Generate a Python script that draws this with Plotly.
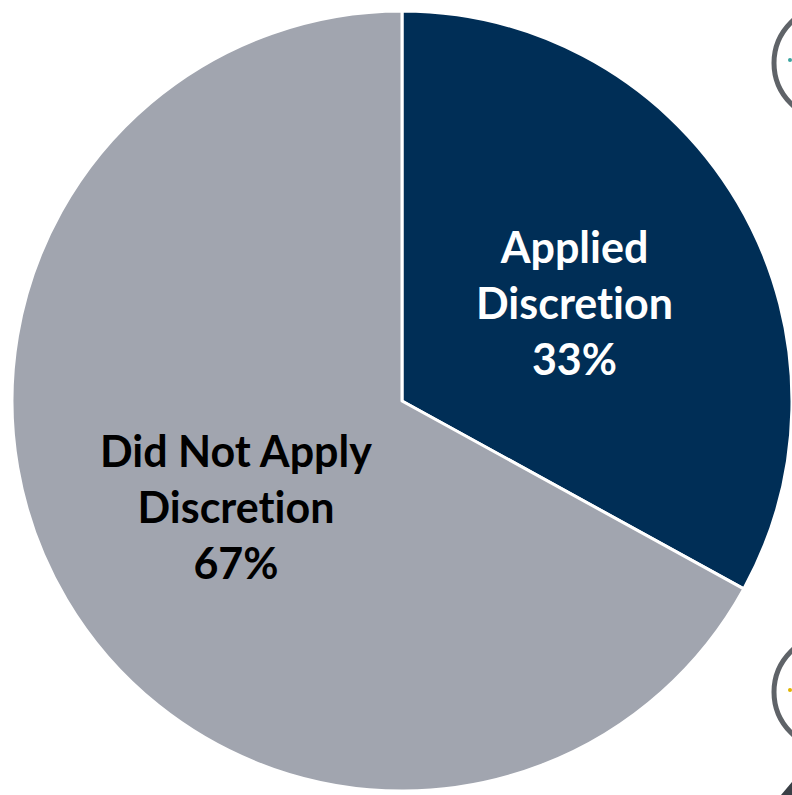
import plotly.graph_objects as go

# Share of cases by whether discretion was applied
categories = ["Applied Discretion", "Did Not Apply Discretion"]
# a zero-width non-joiner keeps "ti" from fusing into a ligature
label_lines = [["Applied", "Discret\u200cion"], ["Did Not Apply", "Discret\u200cion"]]
shares = [33, 67]
slice_colors = ["#002E56", "#A1A5AF"]
label_colors = ["#FFFFFF", "#000000"]

W, H = 792, 795


def px_x(x):
    return x / W


def px_y(y):
    return (H - y) / H


fig = go.Figure(
    go.Pie(
        labels=categories,
        values=shares,
        sort=False,
        direction="clockwise",
        rotation=0,
        textinfo="none",
        hoverinfo="label+percent",
        marker=dict(colors=slice_colors, line=dict(color="#FFFFFF", width=3)),
        domain=dict(x=[px_x(12), 1.0], y=[px_y(791), px_y(11)]),
        showlegend=False,
    )
)

# Slice labels, text built from the data
label_pos = [(574, 302), (236, 506)]
for lines, val, col, (lx, ly) in zip(label_lines, shares, label_colors, label_pos):
    fig.add_annotation(
        x=px_x(lx), y=px_y(ly), xref="paper", yref="paper",
        xanchor="center", yanchor="middle",
        text="<br>".join(lines + [f"{val}%"]),
        showarrow=False, align="center",
        font=dict(family="Lato", size=43, color=col, weight="bold"),
    )

# Decorative icon rings along the right edge
ring = dict(type="circle", xref="paper", yref="paper",
            line=dict(color="#5F6368", width=5), fillcolor="rgba(0,0,0,0)")
for cy in (63, 692):
    fig.add_shape(**ring, x0=px_x(774), x1=px_x(888), y0=px_y(cy + 57), y1=px_y(cy - 57))

fig.add_shape(type="circle", xref="paper", yref="paper", line_width=0,
              fillcolor="#3BA4A0", x0=px_x(788), x1=px_x(792), y0=px_y(62), y1=px_y(58))
fig.add_shape(type="circle", xref="paper", yref="paper", line_width=0,
              fillcolor="#E0B400", x0=px_x(788), x1=px_x(792), y0=px_y(692), y1=px_y(688))
fig.add_shape(type="path", xref="paper", yref="paper", line_width=0, fillcolor="#3A3F46",
              path=f"M {px_x(781)} {px_y(795)} L {px_x(792)} {px_y(782)} L {px_x(792)} {px_y(795)} Z")

fig.update_layout(
    width=W, height=H,
    margin=dict(l=0, r=0, t=0, b=0),
    paper_bgcolor="#FFFFFF",
    plot_bgcolor="#FFFFFF",
)

fig.write_html("out.html")
